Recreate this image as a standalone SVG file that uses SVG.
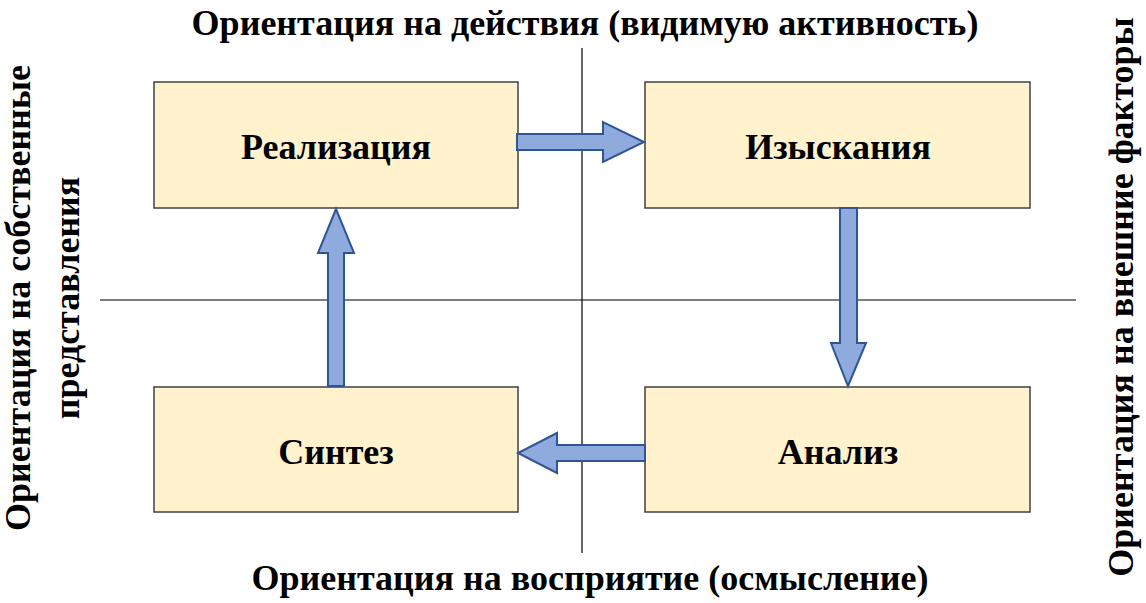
<svg xmlns="http://www.w3.org/2000/svg" width="1146" height="603" viewBox="0 0 1146 603">
<style>
.box{fill:#FFF2CC;stroke:#404040;stroke-width:1.5}
.lbl{font-family:"Liberation Serif","Times New Roman",serif;font-weight:bold;font-size:36px;fill:#000;text-anchor:middle}
.ax{font-family:"Liberation Serif","Times New Roman",serif;font-weight:bold;font-size:36px;fill:#000;text-anchor:middle}
.axis{stroke:#000;stroke-width:1.2;fill:none}
.arr{fill:#8FAADC;stroke:#2F5597;stroke-width:2;stroke-linejoin:miter}
</style>
<rect width="1146" height="603" fill="#fff"/>
<g id="axes">
<line class="axis" x1="582" y1="48" x2="582" y2="553"/>
<line class="axis" x1="100" y1="300" x2="1076" y2="300"/>
</g>
<g id="realizatsiya"><rect class="box" x="154" y="82" width="364" height="126"/><text class="lbl" x="336" y="159">Реализация</text></g>
<g id="izyskaniya"><rect class="box" x="645" y="82" width="385" height="126"/><text class="lbl" x="838" y="159">Изыскания</text></g>
<g id="sintez"><rect class="box" x="154" y="387" width="364" height="125"/><text class="lbl" x="336" y="464">Синтез</text></g>
<g id="analiz"><rect class="box" x="645" y="387" width="385" height="125"/><text class="lbl" x="838" y="464">Анализ</text></g>
<g id="connectors">
<polygon class="arr" points="517,134 603,134 603,122 644,142 603,162 603,150 517,150"/>
<polygon class="arr" points="840,208 857,208 857,343 866,343 848,386 831,343 840,343"/>
<polygon class="arr" points="645,445 557,445 557,433 518,453 557,473 557,461 645,461"/>
<polygon class="arr" points="328,386 344,386 344,253 354,253 336,209 318,253 328,253"/>
</g>
<g id="labels">
<text class="ax" x="585" y="35">Ориентация на действия (видимую активность)</text>
<text class="ax" x="590" y="590">Ориентация на восприятие (осмысление)</text>
<text class="ax" transform="translate(30,298) rotate(-90)">Ориентация на собственные</text>
<text class="ax" transform="translate(79,298) rotate(-90)">представления</text>
<text class="ax" transform="translate(1133,297) rotate(-90)">Ориентация на внешние факторы</text>
</g>
</svg>
